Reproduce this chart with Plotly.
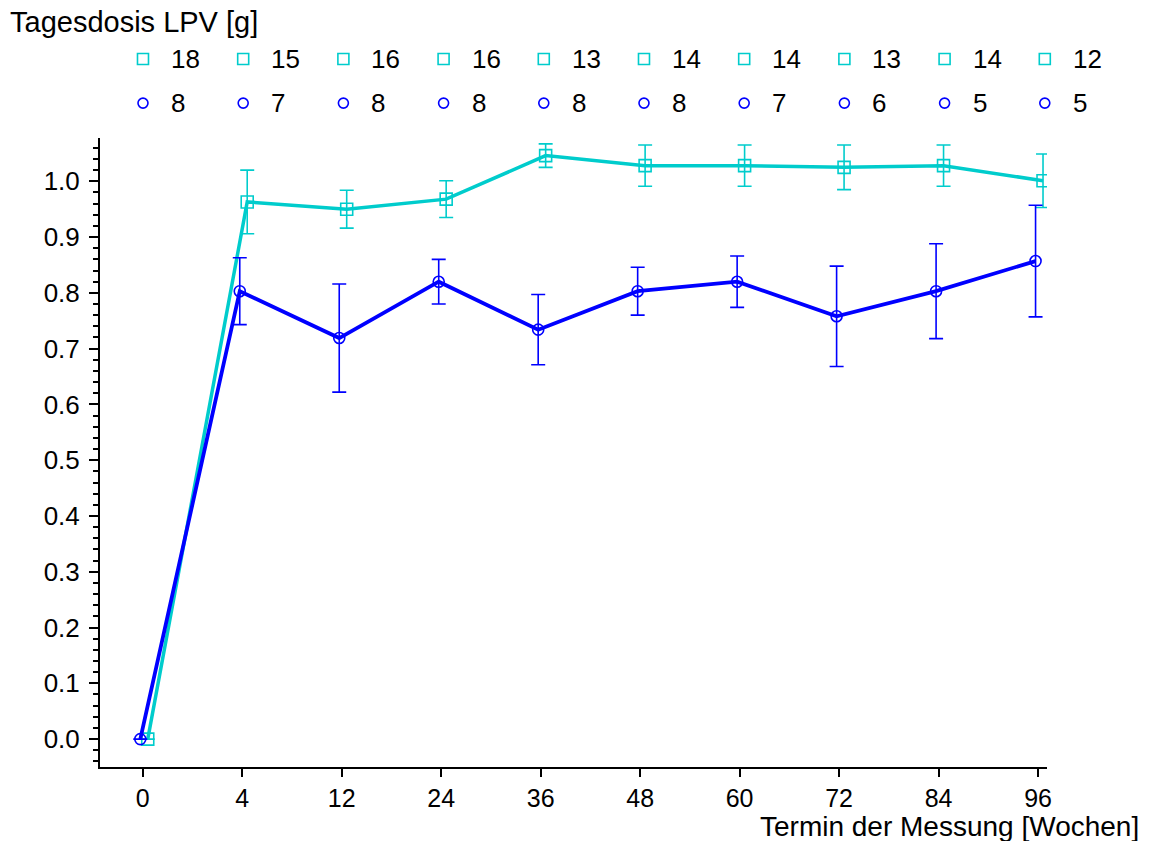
import plotly.graph_objects as go

weeks = ["0", "4", "12", "24", "36", "48", "60", "72", "84", "96"]
mean_cyan = [0.0, 0.963, 0.950, 0.968, 1.046, 1.028, 1.028, 1.025, 1.028, 1.001]
err_cyan = [0.0, 0.057, 0.034, 0.033, 0.021, 0.037, 0.037, 0.040, 0.037, 0.048]
mean_blue = [0.0, 0.803, 0.719, 0.820, 0.734, 0.803, 0.820, 0.758, 0.803, 0.857]
err_blue = [0.0, 0.060, 0.097, 0.040, 0.063, 0.043, 0.046, 0.090, 0.085, 0.100]
n_cyan = [18, 15, 16, 16, 13, 14, 14, 13, 14, 12]
n_blue = [8, 7, 8, 8, 8, 8, 7, 6, 5, 5]
y_ticks = [0.0, 0.1, 0.2, 0.3, 0.4, 0.5, 0.6, 0.7, 0.8, 0.9, 1.0]

CYAN = "rgb(0,204,204)"
BLUE = "rgb(0,0,255)"
FONT = "Liberation Sans, Arial, sans-serif"

idx = list(range(len(weeks)))
x_cyan = [i + 0.05 for i in idx]
x_blue = [i - 0.025 for i in idx]

fig = go.Figure()
fig.add_trace(go.Scatter(
    x=x_cyan, y=mean_cyan, mode="lines+markers",
    line=dict(color=CYAN, width=3.5),
    marker=dict(symbol="square-open", size=12, color=CYAN, line=dict(width=1.6, color=CYAN)),
    error_y=dict(type="data", array=err_cyan, symmetric=True, color=CYAN, thickness=1.6, width=7),
    showlegend=False, hoverinfo="skip",
))
fig.add_trace(go.Scatter(
    x=x_blue, y=mean_blue, mode="lines+markers",
    line=dict(color=BLUE, width=3.8),
    marker=dict(symbol="circle-open", size=11, color=BLUE, line=dict(width=1.6, color=BLUE)),
    error_y=dict(type="data", array=err_blue, symmetric=True, color=BLUE, thickness=1.6, width=7),
    showlegend=False, hoverinfo="skip",
))

# legend-like count rows on a hidden overlay axis
fig.add_trace(go.Scatter(
    x=idx, y=[1] * len(idx), mode="markers", xaxis="x2", yaxis="y2", cliponaxis=False,
    marker=dict(symbol="square-open", size=11, color=CYAN, line=dict(width=1.6, color=CYAN)),
    showlegend=False, hoverinfo="skip",
))
fig.add_trace(go.Scatter(
    x=idx, y=[0] * len(idx), mode="markers", xaxis="x2", yaxis="y2", cliponaxis=False,
    marker=dict(symbol="circle-open", size=10, color=BLUE, line=dict(width=1.6, color=BLUE)),
    showlegend=False, hoverinfo="skip",
))

annotations = []
for i, n in enumerate(n_cyan):
    annotations.append(dict(x=i, y=1, xref="x2", yref="y2", text=str(n), showarrow=False,
                            xanchor="left", yanchor="middle", xshift=26,
                            font=dict(family=FONT, size=26, color="black")))
for i, n in enumerate(n_blue):
    annotations.append(dict(x=i, y=0, xref="x2", yref="y2", text=str(n), showarrow=False,
                            xanchor="left", yanchor="middle", xshift=26,
                            font=dict(family=FONT, size=26, color="black")))
annotations.append(dict(x=0, y=1, xref="paper", yref="paper", xshift=-92, yshift=26,
                        text="Tagesdosis LPV [g]", showarrow=False, xanchor="left", yanchor="top",
                        font=dict(family=FONT, size=29, color="black")))
annotations.append(dict(x=1, y=0, xref="paper", yref="paper", xshift=94, yshift=-42,
                        text="Termin der Messung [Wochen]", showarrow=False, xanchor="right", yanchor="top",
                        font=dict(family=FONT, size=28, color="black")))

fig.update_layout(
    width=1149, height=841,
    margin=dict(l=100, r=102, t=30, b=74),
    paper_bgcolor="white", plot_bgcolor="white",
    font=dict(family=FONT, size=26, color="black"),
    annotations=annotations,
    xaxis=dict(
        domain=[0, 1], range=[-0.43, 9.09], tickmode="array", tickvals=idx, ticktext=weeks,
        showgrid=False, zeroline=False, showline=True, linecolor="black", linewidth=2,
        ticks="outside", ticklen=8, tickwidth=2, tickcolor="black",
        tickfont=dict(family=FONT, size=25), ticklabelstandoff=0, anchor="y",
    ),
    yaxis=dict(
        domain=[0, 0.853], range=[-0.05, 1.077], tickmode="array", tickvals=y_ticks,
        tickformat=".1f", showgrid=False, zeroline=False, showline=True, linecolor="black",
        linewidth=2, ticks="outside", ticklen=9, tickwidth=2, tickcolor="black",
        tickfont=dict(family=FONT, size=26), ticklabelstandoff=4, anchor="x",
        minor=dict(dtick=0.02, tick0=0, ticks="outside", ticklen=5, tickwidth=1.5, tickcolor="black"),
    ),
    xaxis2=dict(domain=[0, 1], range=[-0.429, 9.022], visible=False, anchor="y2"),
    yaxis2=dict(domain=[0.86, 1.0], range=[-0.682, 1.659], visible=False, anchor="x2"),
)

fig.write_html("out.html")
